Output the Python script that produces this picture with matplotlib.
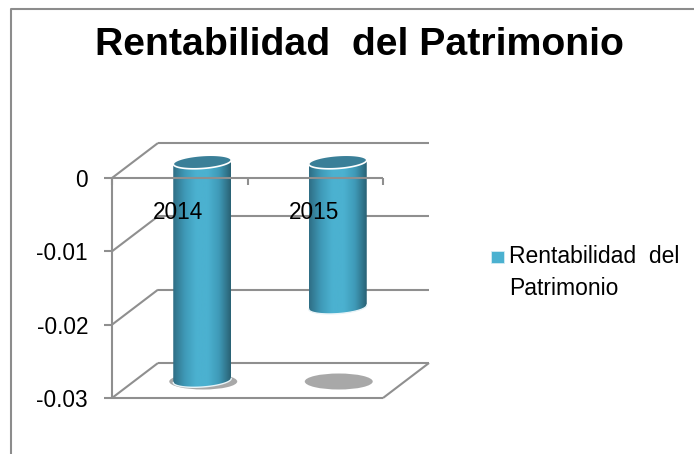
import numpy as np
import matplotlib
matplotlib.use('Agg')
import matplotlib.pyplot as plt
from matplotlib.patches import Ellipse, PathPatch, Rectangle
from matplotlib.path import Path
from matplotlib.colors import LinearSegmentedColormap

W, H = 694, 454

categories = ['2014', '2015']
values = [-0.03, -0.02]
yticks = [0, -0.01, -0.02, -0.03]
ytick_labels = ['0', '-0.01', '-0.02', '-0.03']
title = 'Rentabilidad  del Patrimonio'
legend_lines = ['Rentabilidad  del', 'Patrimonio']

GREY = '#8f8f8f'
cmap = LinearSegmentedColormap.from_list('cyl', ['#2f6f86', '#3f9ab8', '#4bb1d0', '#4bb1d0', '#3f9ab8', '#2a6376'])

fig = plt.figure(figsize=(W / 100, H / 100), dpi=100)
plt.rcParams['font.family'] = ['Liberation Sans', 'DejaVu Sans']

# front plane of the fake 3d box, in pixels
ax = fig.add_axes([112 / W, 1 - 398 / H, 271 / W, 220 / H])
ax.set_xlim(0, 2)
ax.set_ylim(-0.03, 0)
ax.axis('off')

px = 2 / 271
py = 0.03 / 220
depth_x = 46 * px
depth_y = 35 * py

line = dict(color=GREY, lw=1.5, clip_on=False, solid_capstyle='butt', zorder=1)

for y in yticks:
    # side wall, back wall
    ax.plot([0, depth_x], [y, y + depth_y], **line)
    ax.plot([depth_x, 2 + depth_x], [y + depth_y, y + depth_y], **line)
    ax.plot([-8 * px, 0], [y, y], **line)

# floor
ax.plot([0, 2], [-0.03, -0.03], **line)
ax.plot([2, 2 + depth_x], [-0.03, -0.03 + depth_y], **line)
# left axis
ax.plot([0, 0], [-0.03, 0], **line)

rx = 29 * px
ry = 6.5 * py
tilt = 2 * py
mid_x = depth_x / 2 - 0.5 * px
mid_y = depth_y / 2


def ell(cx, cy, t):
    return cx + rx * np.cos(t), cy + ry * np.sin(t) + tilt * np.cos(t)


for i, (cat, val) in enumerate(zip(categories, values)):
    cx = i + 0.5 + mid_x
    top = mid_y - 1.5 * py
    bottom = val + mid_y

    # floor shadow
    ax.add_patch(Ellipse((cx + 1 * px, -0.03 + mid_y - 1 * py), 68 * px, 16 * py, angle=0, fc='#a8a8a8', ec='none',
                         clip_on=False, zorder=2))

    # cylinder body with horizontal shading
    t1 = np.linspace(np.pi, 2 * np.pi, 40)
    t2 = np.linspace(0, np.pi, 40)
    xb, yb = ell(cx, bottom, t1)
    xt, yt = ell(cx, top, t2)
    body = Path(np.column_stack([np.r_[xb, xt], np.r_[yb, yt]]))
    im = ax.imshow(np.linspace(0, 1, 64).reshape(1, -1), extent=[cx - rx, cx + rx, -0.04, 0.01], cmap=cmap,
                   aspect='auto', zorder=3)
    im.set_clip_box(fig.bbox)
    im.set_clip_path(PathPatch(body, transform=ax.transData))

    # lower white rim
    ax.plot(xb, yb, color='#e8f4f8', lw=1, clip_on=False, zorder=4)

    # top cap
    t = np.linspace(0, 2 * np.pi, 80)
    xc, yc = ell(cx, top, t)
    ax.fill(xc, yc, fc='#3a7f98', ec='white', lw=1.2, clip_on=False, zorder=5)

    ax.text(i + 0.5 - 1.5 * px, -41 * py, cat, ha='center', va='baseline', fontsize=16.3, color='black', zorder=6)

# front top edge and its ticks sit over the bars
front = dict(color=GREY, lw=1.5, clip_on=False, solid_capstyle='butt', zorder=5.5)
ax.plot([0, 2], [0, 0], **front)
for x in [0, 1, 2]:
    ax.plot([x, x], [0, -7 * py], **front)

ax.set_ylim(-0.03, 0)
ax.set_xlim(0, 2)

for y, lab in zip(yticks, ytick_labels):
    ax.text(-24 * px, y - 9 * py, lab, ha='right', va='baseline', fontsize=16.3, color='black')

fig.text(359 / W, 1 - 55 / H, title, ha='center', va='baseline', fontsize=28.3, fontweight='bold')

# legend
fig.add_artist(Rectangle((491 / W, 1 - 263 / H), 13 / W, 12 / H, transform=fig.transFigure, fc='#4bb1d0', ec='#d5ecf3', lw=0.6))
fig.text(509 / W, 1 - 263 / H, legend_lines[0], ha='left', va='baseline', fontsize=16.5)
fig.text(509 / W, 1 - 295 / H, legend_lines[1], ha='left', va='baseline', fontsize=16.5)

# chart border
fig.add_artist(plt.Line2D([10.5 / W, 10.5 / W, 1], [0, 1 - 9 / H, 1 - 9 / H], transform=fig.transFigure, color='#8c8c8c', lw=1.5))

fig.savefig('out.png', dpi=100)
